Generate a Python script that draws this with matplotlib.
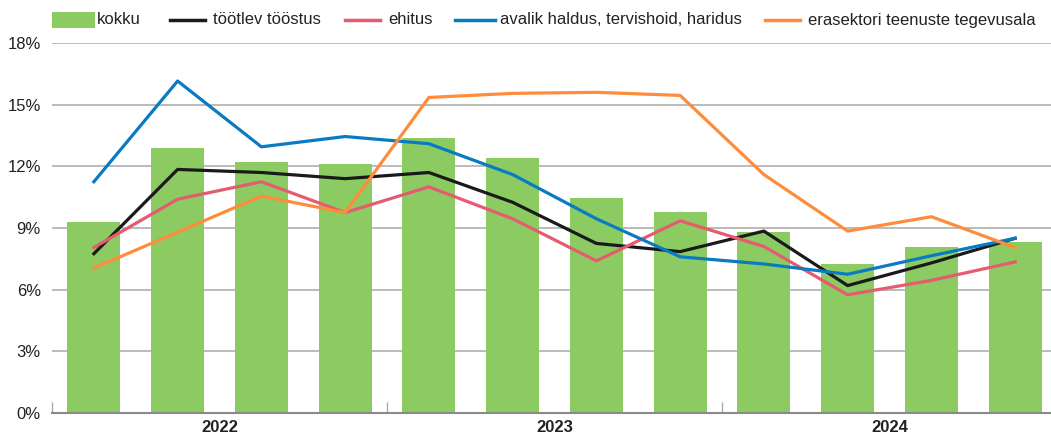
import matplotlib
matplotlib.use("Agg")
import matplotlib.pyplot as plt
from matplotlib.patches import Rectangle
from matplotlib.lines import Line2D
import numpy as np

plt.rcParams['font.family'] = ['Liberation Sans', 'DejaVu Sans']

years = ["2022", "2023", "2024"]
quarters = list(range(12))
kokku = [9.3, 12.9, 12.2, 12.1, 13.4, 12.4, 10.45, 9.8, 8.8, 7.25, 8.1, 8.3]
tootlev = [7.75, 11.85, 11.7, 11.4, 11.7, 10.25, 8.25, 7.85, 8.85, 6.2, 7.3, 8.5]
ehitus = [8.05, 10.4, 11.25, 9.75, 11.0, 9.45, 7.4, 9.35, 8.1, 5.75, 6.45, 7.35]
avalik = [11.25, 16.15, 12.95, 13.45, 13.1, 11.6, 9.45, 7.6, 7.25, 6.75, 7.65, 8.5]
erasektor = [7.05, 8.8, 10.55, 9.75, 15.35, 15.55, 15.6, 15.45, 11.6, 8.85, 9.55, 8.05]
labels = ["kokku", "töötlev tööstus", "ehitus", "avalik haldus, tervishoid, haridus",
          "erasektori teenuste tegevusala"]

c_green = '#8ccb62'
c_black = '#1a1a1a'
c_red = '#e55b6f'
c_blue = '#0a7bc2'
c_orange = '#ff8c3d'

W, H = 1051, 434
fig = plt.figure(figsize=(W/100, H/100), dpi=100)
ax = fig.add_axes([52/W, 21/H, 1005/W, 370/H])

x = np.arange(len(quarters))
ax.bar(x, kokku, width=0.63, color=c_green, zorder=2)
lw = 2.3
ax.plot(x, tootlev, color=c_black, lw=lw, zorder=3)
ax.plot(x, ehitus, color=c_red, lw=lw, zorder=3)
ax.plot(x, avalik, color=c_blue, lw=lw, zorder=3)
ax.plot(x, erasektor, color=c_orange, lw=lw, zorder=3)

ax.set_xlim(-0.5, 11.5)
ax.set_ylim(0, 18)
ax.set_yticks(np.arange(0, 19, 3))
ax.set_yticklabels([f"{v}%" for v in range(0, 19, 3)], fontsize=12, color='#222222')
ax.yaxis.grid(True, color='#b5b5b5', lw=1.3, zorder=0)
ax.set_axisbelow(True)
for s in ['top', 'right', 'left']:
    ax.spines[s].set_visible(False)
ax.spines['bottom'].set_color('#8a8a8a')
ax.spines['bottom'].set_linewidth(1.5)
ax.tick_params(axis='y', length=0, pad=8)

ax.set_xticks([1.5, 5.5, 9.5])
ax.set_xticklabels(years, fontsize=12, fontweight='bold', color='#222222')
ax.tick_params(axis='x', length=0, pad=5)
ax.set_xticks([-0.5, 3.5, 7.5], minor=True)
ax.tick_params(axis='x', which='minor', direction='in', length=8, color='#aaaaaa', width=1)

# manual legend (pixel positions from top-left)
ly = 1 - 20/H
fig.patches.append(Rectangle((52/W, 1 - 28/H), 43/W, 16/H, transform=fig.transFigure,
                             facecolor=c_green, edgecolor='none'))
fig.text(97/W, ly, labels[0], fontsize=12, va='center', ha='left', color='#222222')
line_specs = [(170, 205, 213, c_black, labels[1]),
              (345, 380, 388, c_red, labels[2]),
              (455, 495, 500, c_blue, labels[3]),
              (765, 800, 808, c_orange, labels[4])]
for x0, x1, tx, col, lab in line_specs:
    fig.add_artist(Line2D([x0/W, x1/W], [ly, ly], transform=fig.transFigure, color=col, lw=2.5))
    fig.text(tx/W, ly, lab, fontsize=12, va='center', ha='left', color='#222222')

fig.savefig('out.png', dpi=100)
